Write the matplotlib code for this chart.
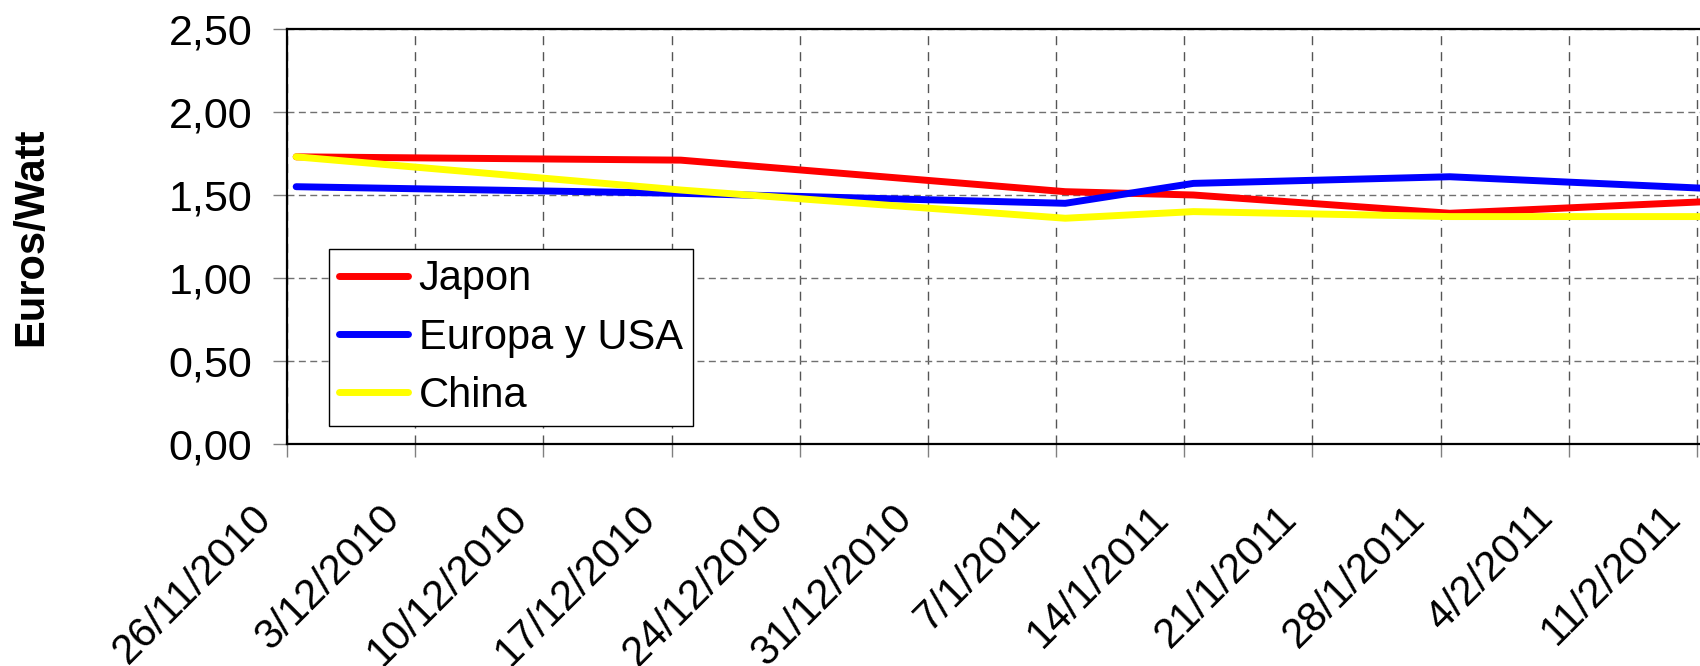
import datetime as dt

import matplotlib
matplotlib.use("Agg")
import matplotlib.pyplot as plt
import matplotlib.dates as mdates
from matplotlib.ticker import FixedLocator, FuncFormatter
from matplotlib.transforms import ScaledTranslation

plt.rcParams['font.family'] = ['Liberation Sans', 'DejaVu Sans']

# Weekly axis ticks
tick_labels = ["26/11/2010", "3/12/2010", "10/12/2010", "17/12/2010",
               "24/12/2010", "31/12/2010", "7/1/2011", "14/1/2011",
               "21/1/2011", "28/1/2011", "4/2/2011", "11/2/2011"]

# Price observations (Euros/Watt)
obs_dates = ["26/11/2010", "17/12/2010", "7/1/2011", "14/1/2011",
             "28/1/2011", "11/2/2011"]
japon = [1.73, 1.71, 1.52, 1.50, 1.39, 1.46]
europa_usa = [1.55, 1.51, 1.45, 1.57, 1.61, 1.54]
china = [1.73, 1.53, 1.36, 1.40, 1.37, 1.37]

series_names = ["Japon", "Europa y USA", "China"]
series_colors = ["#FF0000", "#0000FF", "#FFFF00"]

y_ticks = [0.0, 0.5, 1.0, 1.5, 2.0, 2.5]


def to_num(s):
    return mdates.date2num(dt.datetime.strptime(s, "%d/%m/%Y"))


tick_x = [to_num(s) for s in tick_labels]
# points sit in the middle of their day
obs_x = [to_num(s) + 0.5 for s in obs_dates]

W, H = 1700, 666
fig = plt.figure(figsize=(W / 100, H / 100), dpi=100, facecolor="white")
ax_left, ax_top, ax_bottom = 287, 29, 444
ax = fig.add_axes([ax_left / W, 1 - ax_bottom / H,
                   (W - ax_left) / W, (ax_bottom - ax_top) / H])

for vals, name, col in zip([japon, europa_usa, china], series_names, series_colors):
    ax.plot(obs_x, vals, color=col, lw=5, label=name,
            solid_capstyle="round", solid_joinstyle="round", zorder=3)

px_per_day = (W - 3 - ax_left) / (tick_x[-1] - tick_x[0])
ax.set_xlim(tick_x[0], tick_x[-1] + 3 / px_per_day)
ax.set_ylim(0, 2.5)

ax.xaxis.set_major_locator(FixedLocator(tick_x))
ax.set_xticklabels(tick_labels)
ax.yaxis.set_major_locator(FixedLocator(y_ticks))
ax.yaxis.set_major_formatter(FuncFormatter(lambda v, p: f"{v:.2f}".replace(".", ",")))

ax.tick_params(axis="x", direction="out", length=9, width=1, color="#808080",
               labelsize=30, pad=45.5)
ax.tick_params(axis="y", direction="out", length=10, width=1, color="#808080",
               labelsize=31, pad=15)

for lbl in ax.get_xticklabels():
    lbl.set_rotation(45)
    lbl.set_ha("right")
    lbl.set_va("baseline")
    lbl.set_rotation_mode("anchor")
    lbl.set_transform(lbl.get_transform() +
                      ScaledTranslation(-14 / 100, 0, fig.dpi_scale_trans))

ax.xaxis.grid(True, color="#555555", lw=1.0, linestyle=(0, (6.5, 5)))
ax.yaxis.grid(True, color="#707070", lw=1.0, linestyle=(0, (5, 3.2)))
ax.set_axisbelow(True)

for side in ["left", "bottom", "top"]:
    ax.spines[side].set_color("black")
    ax.spines[side].set_linewidth(1.6)
ax.spines["right"].set_visible(False)

ax.set_ylabel("Euros/Watt", fontsize=30, fontweight="bold", ha="center", va="center")
ax.yaxis.set_label_coords((31 - ax_left) / (W - ax_left), 0.5)

leg = ax.legend(loc="upper left", bbox_to_anchor=(329 / W, 1 - 249 / H),
                bbox_transform=fig.transFigure, fontsize=30, frameon=True,
                fancybox=False, shadow=False, framealpha=1,
                handlelength=1.65, handletextpad=0.25, labelspacing=0.44,
                borderpad=0.25, borderaxespad=0)
leg.get_frame().set_edgecolor("black")
leg.get_frame().set_linewidth(1.0)

fig.savefig("out.png", dpi=100, facecolor="white")
